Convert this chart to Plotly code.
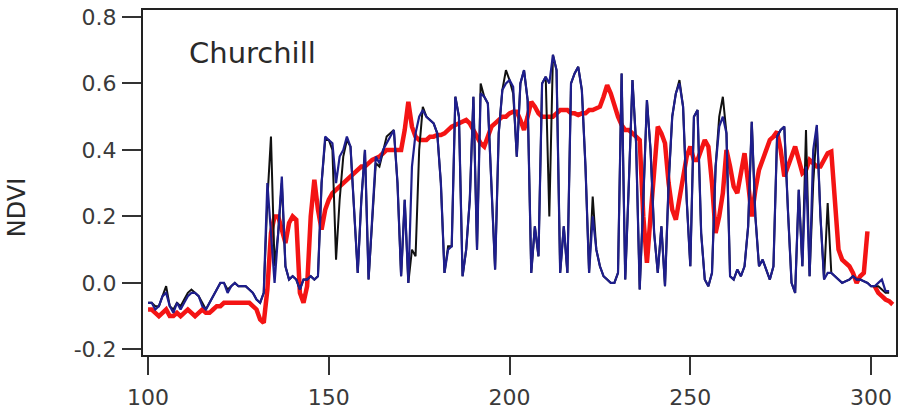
import plotly.graph_objects as go

days = list(range(100, 306))
red_days = list(range(100, 307))

blue_ndvi = [
    -0.06, -0.06, -0.08, -0.07, -0.04, -0.03, -0.07, -0.09, -0.06, -0.08,
    -0.06, -0.04, -0.03, -0.03, -0.04, -0.07, -0.08, -0.06, -0.04, -0.02,
    0.00, 0.00, -0.03, -0.01, 0.00, -0.01, -0.01, -0.01, -0.02, -0.03,
    -0.05, -0.06, -0.03, 0.30, 0.15, 0.00, 0.15, 0.32, 0.05, 0.01,
    0.02, 0.01, -0.02, 0.01, 0.01, 0.02, 0.01, 0.02, 0.30, 0.44,
    0.43, 0.42, 0.30, 0.38, 0.40, 0.44, 0.41, 0.20, 0.03, 0.25,
    0.40, 0.01, 0.20, 0.38, 0.36, 0.40, 0.42, 0.44, 0.46, 0.30,
    0.02, 0.25, 0.00, 0.35, 0.45, 0.50, 0.52, 0.50, 0.49, 0.48,
    0.45, 0.30, 0.03, 0.10, 0.11, 0.56, 0.50, 0.02, 0.10, 0.25,
    0.56, 0.10, 0.57, 0.56, 0.54, 0.30, 0.04, 0.45, 0.58, 0.60,
    0.61, 0.59, 0.38, 0.60, 0.64, 0.55, 0.03, 0.17, 0.08, 0.60,
    0.62, 0.60, 0.686, 0.64, 0.03, 0.17, 0.03, 0.60, 0.63, 0.65,
    0.58, 0.35, 0.03, 0.20, 0.10, 0.05, 0.02, 0.01, 0.00, 0.00,
    0.03, 0.63, 0.01, 0.30, 0.61, 0.42, -0.02, 0.25, 0.55, 0.40,
    0.15, 0.03, 0.17, -0.01, 0.30, 0.50, 0.57, 0.60, 0.53, 0.25,
    0.05, 0.50, 0.52, 0.15, 0.01, -0.01, 0.03, 0.35, 0.47, 0.50,
    0.45, 0.02, 0.01, 0.04, 0.02, 0.05, 0.17, 0.485, 0.20, 0.05,
    0.07, 0.04, 0.01, 0.05, 0.44, 0.46, 0.47, 0.22, 0.00, -0.03,
    0.28, 0.05, 0.35, 0.02, 0.40, 0.475, 0.20, 0.01, 0.03, 0.03,
    0.02, 0.01, 0.00, 0.005, 0.01, 0.02, 0.01, 0.01, 0.005, 0.00,
    -0.01, -0.01, 0.00, 0.01, -0.025, -0.025,
]

black_ndvi = [
    -0.06, -0.06, -0.07, -0.07, -0.04, -0.01, -0.07, -0.08, -0.06, -0.07,
    -0.05, -0.03, -0.02, -0.03, -0.04, -0.06, -0.08, -0.06, -0.04, -0.02,
    0.00, 0.00, -0.02, -0.01, 0.00, -0.01, -0.01, -0.01, -0.02, -0.03,
    -0.05, -0.06, -0.03, 0.25, 0.44, 0.05, 0.15, 0.30, 0.05, 0.01,
    0.02, 0.01, -0.02, 0.01, 0.01, 0.02, 0.01, 0.02, 0.30, 0.43,
    0.43, 0.40, 0.07, 0.25, 0.38, 0.43, 0.41, 0.20, 0.03, 0.25,
    0.40, 0.01, 0.20, 0.36, 0.35, 0.40, 0.44, 0.45, 0.46, 0.30,
    0.02, 0.25, 0.00, 0.10, 0.08, 0.40, 0.53, 0.50, 0.49, 0.48,
    0.45, 0.30, 0.03, 0.11, 0.11, 0.56, 0.50, 0.02, 0.10, 0.25,
    0.56, 0.10, 0.60, 0.56, 0.54, 0.30, 0.04, 0.45, 0.58, 0.64,
    0.61, 0.57, 0.38, 0.60, 0.64, 0.55, 0.03, 0.17, 0.08, 0.60,
    0.62, 0.20, 0.686, 0.64, 0.03, 0.17, 0.03, 0.60, 0.63, 0.65,
    0.58, 0.35, 0.03, 0.26, 0.10, 0.05, 0.02, 0.01, 0.00, 0.00,
    0.03, 0.63, 0.01, 0.30, 0.61, 0.42, -0.02, 0.25, 0.55, 0.40,
    0.15, 0.03, 0.17, -0.01, 0.30, 0.50, 0.57, 0.61, 0.53, 0.25,
    0.05, 0.50, 0.52, 0.15, 0.01, -0.01, 0.03, 0.35, 0.50, 0.56,
    0.45, 0.02, 0.01, 0.04, 0.02, 0.05, 0.17, 0.485, 0.20, 0.05,
    0.07, 0.04, 0.01, 0.05, 0.44, 0.46, 0.47, 0.22, 0.00, -0.03,
    0.28, 0.05, 0.46, 0.02, 0.30, 0.47, 0.20, 0.01, 0.24, 0.03,
    0.02, 0.01, 0.00, 0.005, 0.01, 0.02, 0.01, 0.01, 0.005, 0.00,
    -0.01, -0.01, -0.01, -0.02, -0.03, -0.03,
]

red_ndvi = [
    -0.08, -0.08, -0.09, -0.10, -0.09, -0.08, -0.10, -0.10, -0.09, -0.10,
    -0.09, -0.08, -0.09, -0.10, -0.09, -0.08, -0.09, -0.09, -0.08, -0.07,
    -0.07, -0.06, -0.06, -0.06, -0.06, -0.06, -0.06, -0.06, -0.06, -0.07,
    -0.08, -0.11, -0.12, -0.02, 0.15, 0.20, 0.20, 0.16, 0.12, 0.18,
    0.20, 0.19, -0.03, -0.06, -0.01, 0.20, 0.31, 0.22, 0.16, 0.22,
    0.25, 0.27, 0.28, 0.29, 0.30, 0.31, 0.32, 0.33, 0.34, 0.35,
    0.35, 0.36, 0.37, 0.375, 0.38, 0.39, 0.40, 0.40, 0.40, 0.40,
    0.40, 0.46, 0.545, 0.47, 0.44, 0.43, 0.43, 0.43, 0.44, 0.44,
    0.445, 0.445, 0.45, 0.46, 0.47, 0.475, 0.48, 0.485, 0.49, 0.48,
    0.46, 0.44, 0.42, 0.41, 0.44, 0.47, 0.48, 0.49, 0.50, 0.50,
    0.51, 0.515, 0.515, 0.49, 0.46, 0.50, 0.545, 0.53, 0.51, 0.50,
    0.50, 0.50, 0.50, 0.51, 0.52, 0.52, 0.52, 0.51, 0.51, 0.505,
    0.51, 0.51, 0.52, 0.52, 0.525, 0.53, 0.56, 0.595, 0.57, 0.53,
    0.50, 0.475, 0.46, 0.46, 0.45, 0.44, 0.43, 0.20, 0.06, 0.20,
    0.35, 0.47, 0.45, 0.42, 0.30, 0.22, 0.19, 0.25, 0.31, 0.38,
    0.41, 0.37, 0.37, 0.40, 0.43, 0.41, 0.30, 0.15, 0.20, 0.27,
    0.40, 0.35, 0.29, 0.27, 0.34, 0.39, 0.30, 0.20, 0.28, 0.34,
    0.37, 0.40, 0.43, 0.44, 0.455, 0.40, 0.32, 0.35, 0.38, 0.41,
    0.37, 0.33, 0.34, 0.37, 0.36, 0.35, 0.35, 0.37, 0.39, 0.395,
    0.25, 0.10, 0.07, 0.06, 0.05, 0.03, 0.00, 0.02, 0.03, 0.155,
    None, -0.01, -0.03, -0.04, -0.05, -0.055, -0.065,
]

y_tickvals = [-0.2, 0.0, 0.2, 0.4, 0.6, 0.8]
y_ticktext = ["-0.2", "0.0", "0.2", "0.4", "0.6", "0.8"]
x_tickvals = [100, 150, 200, 250, 300]

FONT = "DejaVu Sans"

fig = go.Figure()
fig.add_trace(go.Scatter(x=red_days, y=red_ndvi, mode="lines",
                         line=dict(color="#f41414", width=4.5), connectgaps=False,
                         name="red"))
fig.add_trace(go.Scatter(x=days, y=black_ndvi, mode="lines",
                         line=dict(color="#111111", width=2), name="black"))
fig.add_trace(go.Scatter(x=days, y=blue_ndvi, mode="lines",
                         line=dict(color="#1e1e8c", width=2.2), name="blue"))

fig.update_layout(
    width=900, height=414,
    margin=dict(l=143, r=2, t=10, b=59),
    paper_bgcolor="white", plot_bgcolor="white",
    showlegend=False,
    font=dict(family=FONT, size=22, color="#3a3a3a"),
    xaxis=dict(range=[98.6, 306.9], tickvals=x_tickvals, ticks="outside",
               ticklen=18, tickwidth=2, tickcolor="#333333",
               showline=True, linecolor="#222222", linewidth=2, mirror=True,
               showgrid=False, zeroline=False, ticklabelstandoff=4,
               tickfont=dict(family=FONT, size=22, color="#3a3a3a")),
    yaxis=dict(range=[-0.217, 0.821], tickvals=y_tickvals, ticktext=y_ticktext,
               ticks="outside", ticklen=19, tickwidth=2, tickcolor="#333333",
               showline=True, linecolor="#222222", linewidth=2, mirror=True,
               showgrid=False, zeroline=False, ticklabelstandoff=1,
               tickfont=dict(family=FONT, size=22, color="#3a3a3a")),
    annotations=[
        dict(text="Churchill", xref="paper", yref="paper", x=0.058, y=0.875,
             xanchor="left", yanchor="middle", showarrow=False,
             font=dict(family=FONT, size=29, color="#2a2a2a")),
        dict(text="NDVI", xref="paper", yref="paper", x=-0.167, y=0.429,
             xanchor="center", yanchor="middle", textangle=-90, showarrow=False,
             font=dict(family=FONT, size=24, color="#2a2a2a")),
    ],
)

fig.write_html(
    "out.html",
    config={"displayModeBar": False},
    post_script="document.body.style.margin='0';document.body.style.overflow='hidden';",
)
